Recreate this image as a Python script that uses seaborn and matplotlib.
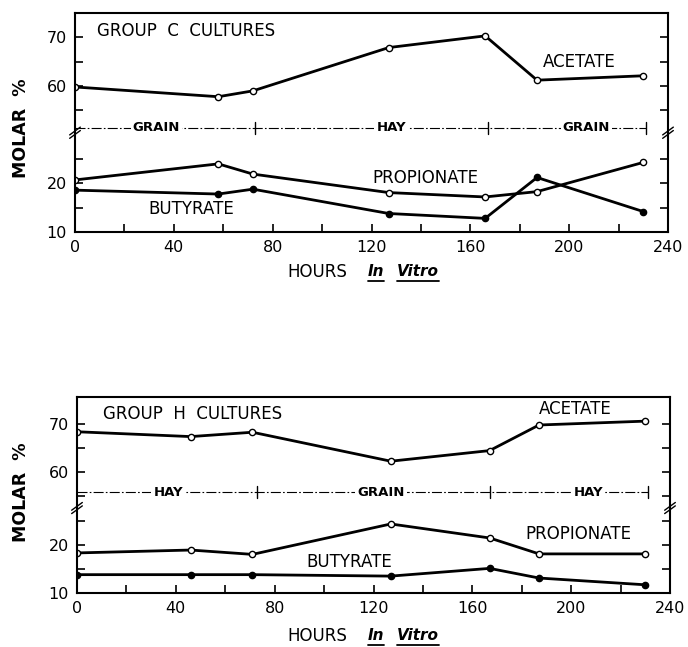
import matplotlib
matplotlib.use("Agg")
import matplotlib.pyplot as plt
import seaborn as sns
import numpy as np
from matplotlib.lines import Line2D

# ---------------- data ----------------
hours_c = [0, 58, 72, 127, 166, 187, 230]
acetate_c = [59.8, 57.8, 59.0, 67.9, 70.3, 61.2, 62.1]
propionate_c = [20.7, 24.0, 21.9, 18.1, 17.2, 18.3, 24.3]
butyrate_c = [18.6, 17.8, 18.8, 13.8, 12.8, 21.2, 14.2]
diets_c = ["GRAIN", "HAY", "GRAIN"]

hours_h = [0, 46, 71, 127, 167, 187, 230]
acetate_h = [68.4, 67.4, 68.3, 62.3, 64.5, 69.8, 70.6]
propionate_h = [18.3, 18.9, 18.0, 24.3, 21.4, 18.1, 18.1]
butyrate_h = [13.8, 13.8, 13.8, 13.5, 15.1, 13.1, 11.7]
diets_h = ["HAY", "GRAIN", "HAY"]

diet_bounds = [0, 73, 167, 231]
x_major = [0, 40, 80, 120, 160, 200, 240]
low_labels = ["10", "20"]
high_labels = ["60", "70"]

sns.set_style("ticks")
plt.rcParams["font.family"] = ["DejaVu Sans"]
for k in ("text.color", "axes.labelcolor", "xtick.color", "ytick.color", "axes.edgecolor"):
    plt.rcParams[k] = "black"

fig = plt.figure(figsize=(6.88, 6.47), dpi=100)
ax1 = fig.add_axes([75 / 688, 1 - 232 / 647, 593 / 688, 219 / 647])
ax2 = fig.add_axes([77 / 688, 1 - 593 / 647, 593 / 688, 196 / 647])


def draw_panel(ax, hours, ac, pr, bu, diets, offset, ytop, treat_y, break_y,
               title, title_pos, ac_pos, pr_pos, bu_pos, diet_label_x):
    ac_m = [v - offset for v in ac]
    style = dict(color="black", lw=2.0, sort=False, estimator=None, legend=False)
    sns.lineplot(x=hours, y=ac_m, ax=ax, marker="o", markersize=4.5,
                 markerfacecolor="white", markeredgecolor="black",
                 markeredgewidth=1.0, **style)
    sns.lineplot(x=hours, y=pr, ax=ax, marker="o", markersize=4.5,
                 markerfacecolor="white", markeredgecolor="black",
                 markeredgewidth=1.0, **style)
    sns.lineplot(x=hours, y=bu, ax=ax, marker="o", markersize=4.5,
                 markerfacecolor="black", markeredgecolor="black",
                 markeredgewidth=1.0, **style)

    ax.set_xlim(0, 240)
    ax.set_ylim(10, ytop)
    ax.set_xticks(x_major)
    ax.set_xticklabels([str(v) for v in x_major])
    ax.set_xticks(np.arange(20, 240, 40), minor=True)
    ax.set_xlabel("")
    ax.set_ylabel("")

    yt_major = [10, 20, 60 - offset, 70 - offset]
    yt_minor = [15, 25, 55 - offset, 65 - offset]
    ax.set_yticks(yt_major)
    ax.set_yticklabels(low_labels + high_labels)
    ax.set_yticks(yt_minor, minor=True)

    ax.tick_params(axis="both", which="both", direction="in", length=6,
                   width=1.2, labelsize=11.5, pad=6, colors="black")
    ax.tick_params(axis="y", which="both", right=True)
    ax.tick_params(axis="x", which="both", top=False)
    for sp in ax.spines.values():
        sp.set_linewidth(1.5)
        sp.set_visible(True)
        sp.set_color("black")

    # diet band
    ax.plot([diet_bounds[0], diet_bounds[-1]], [treat_y, treat_y], color="black",
            lw=0.8, dashes=(9, 2, 1.5, 2))
    for b in diet_bounds[1:]:
        ax.plot([b, b], [treat_y - 1.2, treat_y + 1.2], color="black", lw=1.0)
    for lab, xx in zip(diets, diet_label_x):
        ax.text(xx, treat_y, lab, ha="center", va="center", fontsize=9.5,
                fontweight="bold", color="black",
                bbox=dict(facecolor="white", edgecolor="none", pad=1.5))

    # axis break marks
    tr = ax.get_yaxis_transform()
    for xa in (0.0, 1.0):
        for dy in (-0.35, 0.35):
            ax.plot([xa - 0.009, xa + 0.009], [break_y + dy - 0.8, break_y + dy + 0.8],
                    transform=tr, color="black", lw=1.0, clip_on=False)

    # labels
    ax.text(title_pos[0], title_pos[1], title, ha="left", va="center", fontsize=12)
    ax.text(ac_pos[0], ac_pos[1], "ACETATE", ha="center", va="center", fontsize=12)
    ax.text(pr_pos[0], pr_pos[1], "PROPIONATE", ha="center", va="center", fontsize=12)
    ax.text(bu_pos[0], bu_pos[1], "BUTYRATE", ha="center", va="center", fontsize=12)


draw_panel(ax1, hours_c, acetate_c, propionate_c, butyrate_c, diets_c,
           offset=20, ytop=55, treat_y=31.4, break_y=30.4,
           title="GROUP  C  CULTURES", title_pos=(9, 51.4),
           ac_pos=(204, 45.0), pr_pos=(142, 21.0), bu_pos=(47, 14.7),
           diet_label_x=[33, 128, 207])
draw_panel(ax2, hours_h, acetate_h, propionate_h, butyrate_h, diets_h,
           offset=25, ytop=50.6, treat_y=30.9, break_y=27.6,
           title="GROUP  H  CULTURES", title_pos=(10.5, 47.1),
           ac_pos=(201.6, 48.2), pr_pos=(203, 22.2), bu_pos=(110, 16.4),
           diet_label_x=[37, 123, 207])

# y labels
for yc in (1 - 128 / 647, 1 - 492 / 647):
    fig.text(21 / 688, yc, "MOLAR  %", rotation=90, ha="center", va="center",
             fontsize=12.5, fontweight="bold")

# x labels with underlined italic "In Vitro"
parts = []
for ypx in (272, 636):
    yf = 1 - ypx / 647
    fig.text(287 / 688, yf, "HOURS", ha="left", va="center", fontsize=12)
    t1 = fig.text(368 / 688, yf, "In", ha="left", va="center", fontsize=11,
                  fontstyle="italic", fontweight="bold")
    t2 = fig.text(397 / 688, yf, "Vitro", ha="left", va="center", fontsize=11,
                  fontstyle="italic", fontweight="bold")
    parts += [t1, t2]

fig.canvas.draw()
r = fig.canvas.get_renderer()
for t in parts:
    bb = t.get_window_extent(r)
    y = (bb.y0 - 1) / fig.bbox.height
    fig.add_artist(Line2D([bb.x0 / fig.bbox.width, bb.x1 / fig.bbox.width], [y, y],
                          color="black", lw=1.3, transform=fig.transFigure))

fig.savefig("out.png", dpi=100, facecolor="white")
